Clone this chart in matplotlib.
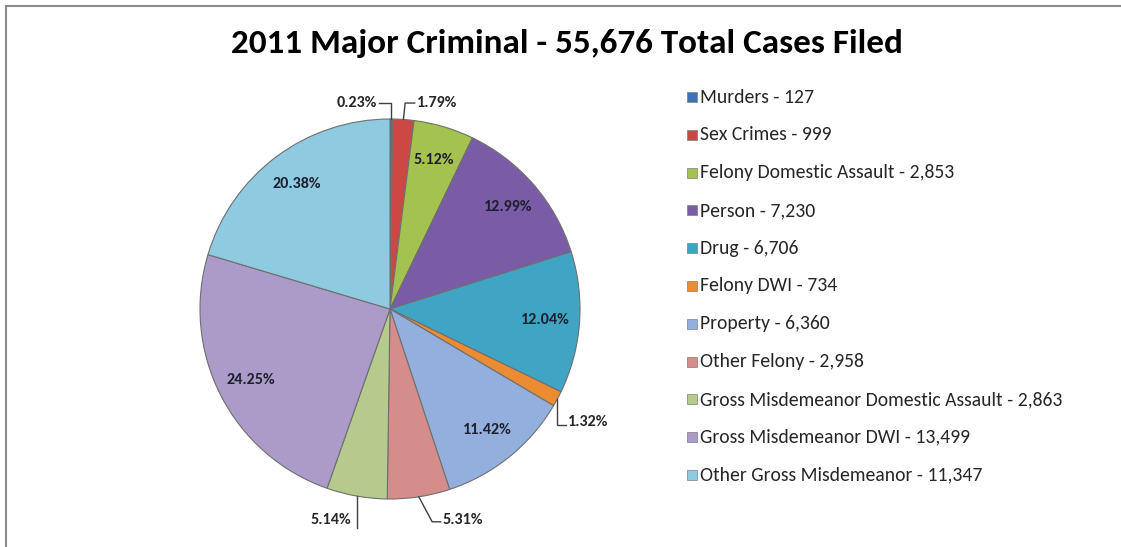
import numpy as np
import matplotlib
matplotlib.use("Agg")
import matplotlib.pyplot as plt
from matplotlib import font_manager
from matplotlib.patches import Rectangle
from matplotlib.lines import Line2D

# data
categories = ["Murders", "Sex Crimes", "Felony Domestic Assault", "Person", "Drug",
              "Felony DWI", "Property", "Other Felony",
              "Gross Misdemeanor Domestic Assault", "Gross Misdemeanor DWI",
              "Other Gross Misdemeanor"]
cases = [127, 999, 2853, 7230, 6706, 734, 6360, 2958, 2863, 13499, 11347]
colors = ["#3f72b5", "#cc4845", "#a3c24f", "#7a5ca6", "#40a4c4", "#ec8c32",
          "#93afdd", "#d58d8b", "#b5ca8c", "#aa9bc9", "#8fcbe0"]
title = "2011 Major Criminal - 55,676 Total Cases Filed"

def pick_font(names):
    have = {f.name for f in font_manager.fontManager.ttflist}
    for n in names:
        if n in have:
            return n
    return "DejaVu Sans"

fam = pick_font(["Carlito", "Liberation Sans Narrow", "Lato", "Open Sans"])
plt.rcParams['font.family'] = [fam, 'DejaVu Sans']

W, H = 1121, 547
fig = plt.figure(figsize=(W/100, H/100), dpi=100)
fig.patch.set_facecolor('white')

# axes covering the whole figure, 1 data unit = pie radius (190 px)
R = 190.0
cx, cy = 390.0, 309.0
ax = fig.add_axes([0, 0, 1, 1])
wedges, _ = ax.pie(cases, colors=colors, startangle=90, counterclock=False, radius=1,
                   wedgeprops=dict(edgecolor='#6f6f6f', linewidth=0.8))
ax.set_xlim(-cx/R, (W-cx)/R)
ax.set_ylim((cy-H)/R, cy/R)
ax.axis('off')

total = sum(cases)
pct = [f"{v/total*100:.2f}%" for v in cases]

# labels outside the pie: (x, y, ha, elbow y) in radius units
outside = {0: (-0.07, 1.084, 'right', 1.084),
           1: (0.142, 1.084, 'left', 1.084),
           5: (0.937, -0.595, 'left', -0.61),
           7: (0.279, -1.11, 'left', -1.12),
           8: (-0.205, -1.11, 'right', None)}
elbow_dx = {0: 0.0, 1: 0.009, 5: 0.0, 7: 0.07, 8: 0.0}

for i, w in enumerate(wedges):
    mid = np.deg2rad((w.theta1 + w.theta2) / 2)
    ex, ey = np.cos(mid), np.sin(mid)
    if i in outside:
        lx, ly, ha, eyb = outside[i]
        ax.text(lx, ly, pct[i], ha=ha, va='center', fontsize=11.6, fontweight='bold',
                color='#262626')
        if eyb is None:
            xs, ys = [ex, ex], [ey, ly - 0.04]
        else:
            bx = ex + elbow_dx[i]
            endx = lx + 0.012 if ha == 'right' else lx - 0.012
            xs, ys = [ex, bx, endx], [ey, eyb, eyb]
        ax.plot(xs, ys, color='#404040', lw=1)
    else:
        r_lab = 0.82
        ax.text(r_lab*ex, r_lab*ey, pct[i], ha='center', va='center', fontsize=11.6,
                fontweight='bold', color='#1f1f2e')

# title
fig.text(567/W, 1 - 44/H, title, ha='center', va='center', fontsize=25.3,
         fontweight='bold', color='black')

# legend drawn by hand to keep Excel's spacing
for i, (name, c) in enumerate(zip(categories, colors)):
    yy = 97 + i*37.8
    fig.patches.append(Rectangle((687/W, 1 - (yy+5)/H), 10/W, 10/H, transform=fig.transFigure,
                                 facecolor=c, edgecolor='#7f7f7f', lw=0.5))
    fig.text(700/W, 1 - yy/H, f"{name} - {cases[i]:,}", ha='left', va='center',
             fontsize=14.1, color='#262626')

# chart frame (top and left edges visible)
fig.add_artist(Line2D([6/W, 1], [1 - 6/H, 1 - 6/H], transform=fig.transFigure,
                      color='#8c8c8c', lw=1.5))
fig.add_artist(Line2D([6/W, 6/W], [0, 1 - 6/H], transform=fig.transFigure,
                      color='#8c8c8c', lw=1.5))

fig.savefig("out.png", dpi=100)
